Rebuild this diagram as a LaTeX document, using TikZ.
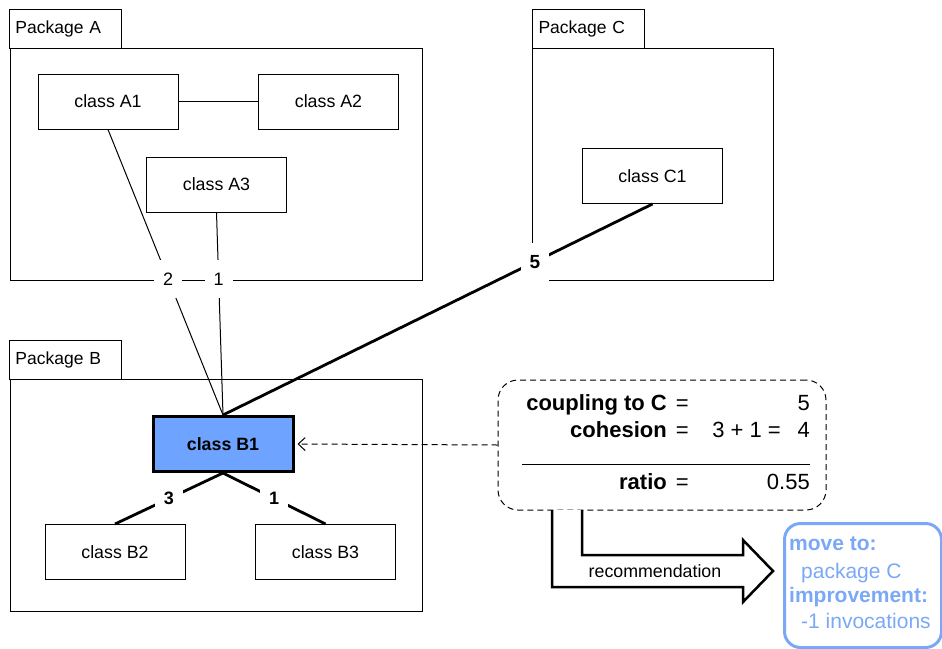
\documentclass[tikz,border=0pt]{standalone}
\usepackage{fontspec}
\setmainfont{Liberation Sans}
\usetikzlibrary{arrows.meta}
\definecolor{selblue}{RGB}{110,163,255}
\definecolor{recblue}{RGB}{122,168,246}
\newcommand{\fs}[1]{\fontsize{#1}{#1}\selectfont}
\begin{document}
\begin{tikzpicture}[x=1pt,y=-1pt,
  pkgtab/.style={draw, line width=1pt, anchor=north west, minimum height=39, text width=100, inner xsep=6, inner ysep=0, align=left, font=\fs{17.5}},
  pkgbody/.style={draw, line width=1pt, anchor=north west, inner sep=0},
  classbox/.style={draw, line width=1pt, fill=white, minimum width=140, minimum height=55, inner sep=0, font=\fs{17.8}},
  thinedge/.style={line width=1pt},
  thickedge/.style={line width=2.8pt},
  weight/.style={fill=white, minimum width=28, minimum height=38, inner sep=0, font=\fs{18}},
  notetext/.style={inner sep=0, anchor=base east, font=\fs{22}},
  rectext/.style={inner sep=0, anchor=base west, text=recblue, font=\fs{21}}
]
\useasboundingbox (0,0) rectangle (942,648);

% packages
\node[pkgtab] (tabA) at (9,9) {Package A};
\node[pkgbody, minimum width=412, minimum height=232] (pkgA) at (10,48) {};
\node[pkgtab] (tabC) at (532,9) {Package C};
\node[pkgbody, minimum width=241, minimum height=232] (pkgC) at (532,48) {};
\node[pkgtab] (tabB) at (9,340) {Package B};
\node[pkgbody, minimum width=412, minimum height=232] (pkgB) at (10,379) {};

% classes
\node[classbox] (A1) at (108,101.5) {class A1};
\node[classbox] (A2) at (328.5,101.5) {class A2};
\node[classbox] (A3) at (216.5,184.5) {class A3};
\node[classbox] (C1) at (652.5,176) {class C1};
\node[classbox, fill=selblue, line width=3pt, font=\fs{17.8}\bfseries] (B1) at (223,444) {class B1};
\node[classbox] (B2) at (115,552) {class B2};
\node[classbox] (B3) at (325.5,552) {class B3};

% dependencies
\draw[thinedge] (A1) -- (A2);
\draw[thinedge] (A1.south) -- node[weight, pos=0.523] (wA1) {2} (B1.north);
\draw[thinedge] (A3.south) -- node[weight, pos=0.328] (wA3) {1} (B1.north);
\draw[thickedge] (C1.south) -- node[weight, pos=0.274, font=\fs{19}\bfseries] (wC1) {5} (B1.north);
\draw[thickedge] (B1.south) -- node[weight, pos=0.5, font=\fs{18}\bfseries] (wB2) {3} (B2.north);
\draw[thickedge] (B1.south) -- node[weight, pos=0.5, font=\fs{18}\bfseries] (wB3) {1} (B3.north);

% metrics note
\node[draw, dashed, dash pattern=on 6pt off 4pt, line width=1pt, rounded corners=20, minimum width=328, minimum height=130, inner sep=0] (note) at (662,445) {};
\draw[thinedge, dashed, dash pattern=on 6pt off 4pt, -{Straight Barb[length=7pt,width=13pt,line width=1pt]}] (note.west) -- ([xshift=3pt]B1.east);

\node[notetext, font=\fs{22}\bfseries] (k1) at (667,410) {coupling to C};
\node[notetext] (e1) at (689,410) {=};
\node[notetext] (v1) at (810,410) {5};
\node[notetext, font=\fs{22}\bfseries] (k2) at (667,437) {cohesion};
\node[notetext] (e2) at (689,437) {=};
\node[notetext] (s2) at (781,437) {3 + 1 =};
\node[notetext] (v2) at (810,437) {4};
\coordinate (barL) at (522,464);
\coordinate (barR) at (810,464);
\draw[line width=0.8pt] (barL) -- (barR);
\node[notetext, font=\fs{22}\bfseries] (k3) at (667,489) {ratio};
\node[notetext] (e3) at (689,489) {=};
\node[notetext] (v3) at (810,489) {0.55};

% recommendation block arrow
\draw[line width=2.5pt, fill=white, line join=miter]
  (552,510) -- (552,587) -- (743,587) -- (743,602) -- (773,571)
  -- (743,540) -- (743,555) -- (582,555) -- (582,510);
\node[inner sep=0, font=\fs{17.8}] (rlabel) at (655,571) {recommendation};

% recommendation result
\node[draw=recblue, line width=3pt, rounded corners=16, anchor=north west, minimum width=157, minimum height=124, inner sep=0] (result) at (783,522) {};
\node[rectext, font=\fs{21}\bfseries] (r1) at (789,550) {move to:};
\node[rectext] (r2) at (801,578) {package C};
\node[rectext, font=\fs{21}\bfseries] (r3) at (789,602) {improvement:};
\node[rectext] (r4) at (801,628) {-1 invocations};
\end{tikzpicture}
\end{document}
